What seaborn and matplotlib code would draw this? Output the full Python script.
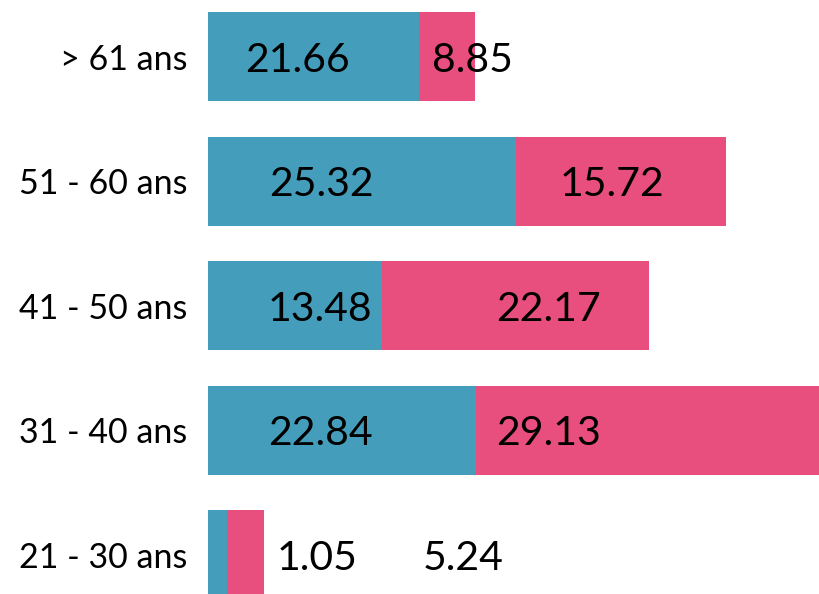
import seaborn as sns
import pandas as pd
import matplotlib.pyplot as plt

# Age groups, top to bottom
categories = ['> 61 ans', '51 - 60 ans', '41 - 50 ans', '31 - 40 ans', '21 - 30 ans']

# Bar lengths
blue_len = [21.1, 30.8, 17.4, 26.8, 1.9]
pink_len = [5.6, 21.0, 26.7, 34.3, 3.7]

# Numbers printed on the bars
blue_labels = ['21.66', '25.32', '13.48', '22.84', '1.05']
pink_labels = ['8.85', '15.72', '22.17', '29.13', '5.24']

# Where the printed numbers sit (x, in bar units)
blue_label_x = [8.9, 11.3, 11.2, 11.2, 10.9]
pink_label_x = [26.4, 40.4, 34.1, 34.1, 25.5]

BLUE = '#449EBB'
PINK = '#E84F7F'

df = pd.DataFrame({'age': categories, 'blue': blue_len, 'pink': pink_len})
df['total'] = df['blue'] + df['pink']

sns.set_style('white')
plt.rcParams['font.family'] = ['Lato', 'DejaVu Sans']

fig = plt.figure(figsize=(8.19, 5.94), dpi=100)
ax = fig.add_axes([208 / 819, 0, 1 - 208 / 819, 1])

# Stacked bars: draw the total in pink, then the blue part over it
sns.barplot(data=df, x='total', y='age', color=PINK, saturation=1, width=0.715, linewidth=0, ax=ax)
sns.barplot(data=df, x='blue', y='age', color=BLUE, saturation=1, width=0.715, linewidth=0, ax=ax)

for i in range(len(categories)):
    ax.text(blue_label_x[i], i, blue_labels[i], ha='center', va='center_baseline', fontsize=29.5, color='black')
    ax.text(pink_label_x[i], i, pink_labels[i], ha='center', va='center_baseline', fontsize=29.5, color='black')

ax.set_xlim(0, 61.1)
ax.set_ylim(4.317, -0.454)
ax.set_xlabel('')
ax.set_ylabel('')
ax.set_xticks([])
ax.tick_params(axis='y', length=0, pad=15, labelsize=24.5, labelcolor='black')
sns.despine(ax=ax, left=True, bottom=True)

plt.savefig('out.png', dpi=100)
